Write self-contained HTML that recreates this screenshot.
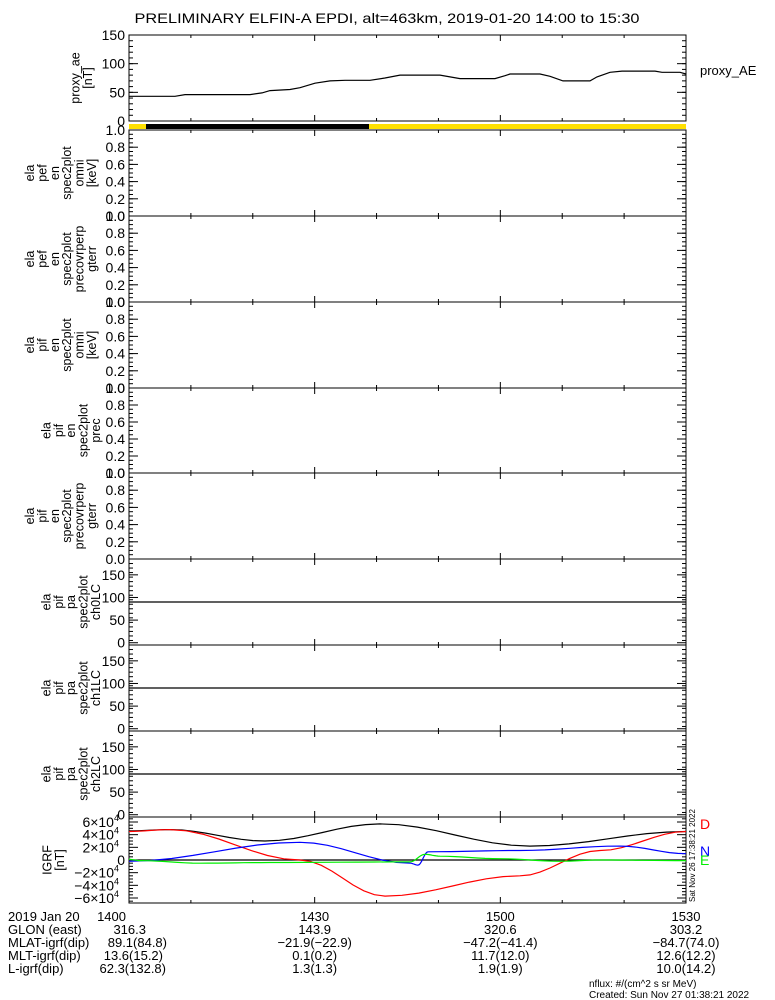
<!DOCTYPE html>
<html><head><meta charset="utf-8"><style>
html,body{margin:0;padding:0;background:#fff}
svg{display:block;font-family:"Liberation Sans",sans-serif}
</style></head><body>
<svg id="s" width="775" height="1000" viewBox="0 0 775 1000" xmlns="http://www.w3.org/2000/svg"></svg>
<script>
const s=document.getElementById('s');let h='';
const L=129,R=686,W=R-L;
const X=t=>L+W*t/90;
function line(x1,y1,x2,y2,c='#000',w=1){h+=`<line x1="${x1}" y1="${y1}" x2="${x2}" y2="${y2}" stroke="${c}" stroke-width="${w}"/>`;}
function txt(x,y,t,a='start',fs=13,c='#000',extra=''){h+=`<text x="${x}" y="${y}" font-size="${fs}" fill="${c}" text-anchor="${a}" ${extra}>${t}</text>`;}
function frame(top,bot,labels,ymin,ymax,minorStep){
  h+=`<rect x="${L}" y="${top}" width="${W}" height="${bot-top}" fill="none" stroke="#000" stroke-width="1"/>`;
  for(let m=0;m<=90;m+=10){const x=X(m);const len=(m%30==0)?6:3;line(x,top,x,top+len);line(x,bot,x,bot-len);}
  const Y=v=>bot-(v-ymin)/(ymax-ymin)*(bot-top);
  for(let v=ymin;v<=ymax+1e-9;v+=minorStep){const y=Y(v);line(L,y,L+4,y);line(R,y,R-4,y);}
  labels.forEach(([v,t])=>{const y=Y(v);line(L,y,L+9,y);line(R,y,R-9,y);txt(L-4,y+5,t,'end',14);});
  return Y;
}
function ylab(lines,cy,lastX){
  const n=lines.length;
  lines.forEach((t,i)=>{const x=lastX-(n-1-i)*12.4;h+=`<text transform="translate(${x},${cy}) rotate(-90)" font-size="12.5" text-anchor="middle">${t}</text>`;});
}
txt(387,23,'PRELIMINARY ELFIN-A EPDI, alt=463km, 2019-01-20 14:00 to 15:30','middle',14,'#000','textLength="505" lengthAdjust="spacingAndGlyphs"');
// AE panel
let Y=frame(35,121,[[0,'0'],[50,'50'],[100,'100'],[150,'150']],0,150,10);
ylab(['proxy_ae','[nT]'],78,92);
txt(700,75,'proxy_AE','start',13);
const ae=[[129,43],[175,43],[185,46],[250,46],[262,49],[270,53],[290,55],[300,58],[315,66],[330,70],[345,71],[370,71],[385,75],[400,80],[440,80],[450,77],[460,74],[495,74],[505,79],[510,82],[540,82],[550,78],[563,70],[590,70],[597,77],[610,85],[622,87],[655,87],[662,85],[680,85],[686,82]];
h+=`<polyline fill="none" stroke="#000" stroke-width="1.2" points="${ae.map(p=>p[0]+','+Y(p[1]).toFixed(1)).join(' ')}"/>`;
// bar
h+=`<rect x="${L}" y="124" width="${W}" height="5" fill="#ffe000"/><rect x="146" y="124" width="223" height="5" fill="#000"/>`;
// spec panels
const tops=[130,216,302,388,473,559,645,731,817,903];
const labs=[['ela','pef','en','spec2plot','omni','[keV]'],['ela','pef','en','spec2plot','precovrperp','gterr'],['ela','pif','en','spec2plot','omni','[keV]'],['ela','pif','en','spec2plot','prec'],['ela','pif','en','spec2plot','precovrperp','gterr'],['ela','pif','pa','spec2plot','ch0LC'],['ela','pif','pa','spec2plot','ch1LC'],['ela','pif','pa','spec2plot','ch2LC']];
for(let i=0;i<8;i++){
  const t=tops[i],b=tops[i+1];
  if(i<5){frame(t,b,[[0,'0.0'],[.2,'0.2'],[.4,'0.4'],[.6,'0.6'],[.8,'0.8'],[1,'1.0']],0,1,0.05);}
  else{const Yp=frame(t,b,[[0,'0'],[50,'50'],[100,'100'],[150,'150']],-5,185,10);line(L,Yp(90),R,Yp(90),'#000',1.2);}
  ylab(labs[i],(t+b)/2,labs[i].length==6?96:100);
}
// IGRF
const t=817,b=903,c=860,k=38/60000;
h+=`<rect x="${L}" y="${t}" width="${W}" height="${b-t}" fill="none" stroke="#000"/>`;
for(let m=0;m<=90;m+=10){const x=X(m);const len=(m%30==0)?6:3;line(x,t,x,t+len);line(x,b,x,b-len);}
for(let v=-65000;v<=65000;v+=5000){const y=c-v*k;if(y<t||y>b)continue;const maj=v%20000==0;line(L,y,L+(maj?9:4),y);line(R,y,R-(maj?9:4),y);}
[[6,'6×10<tspan font-size="9" dy="-6">4</tspan>'],[4,'4×10<tspan font-size="9" dy="-6">4</tspan>'],[2,'2×10<tspan font-size="9" dy="-6">4</tspan>'],[0,'0'],[-2,'−2×10<tspan font-size="9" dy="-6">4</tspan>'],[-4,'−4×10<tspan font-size="9" dy="-6">4</tspan>'],[-6,'−6×10<tspan font-size="9" dy="-6">4</tspan>']].forEach(([v,tt])=>{const y=c-v*10000*k;h+=`<text x="${v==0?L-4:L-10}" y="${y+5}" font-size="14" text-anchor="end">${tt}</text>`;});
line(L,c,R,c,'#000',1.2);
ylab(['IGRF','[nT]'],860,64);
function curve(pts,col){
  let out=[];for(let i=0;i<pts.length-1;i++){const [x0,y0]=pts[i],[x1,y1]=pts[i+1];for(let j=0;j<8;j++){const f=j/8,g=(1-Math.cos(Math.PI*f))/2;out.push([x0+(x1-x0)*f,y0+(y1-y0)*g]);}}
  out.push(pts[pts.length-1]);
  h+=`<polyline fill="none" stroke="${col}" stroke-width="1.2" points="${out.map(p=>p[0].toFixed(1)+','+(c-p[1]*k).toFixed(1)).join(' ')}"/>`;
}
curve([[129,46000],[170,48000],[265,30000],[380,57000],[530,22000],[686,45000]],'#000');
curve([[129,45000],[170,48000],[300,0],[385,-57000],[520,-25000],[600,15000],[686,45000]],'#f00');
curve([[129,-2000],[300,28000],[410,-5000],[418,-8000],[428,13000],[520,15000],[620,22000],[686,10000]],'#00f');
curve([[129,1000],[140,-1000],[200,-5000],[270,-4000],[410,-3000],[425,9000],[440,6000],[500,2000],[560,-2000],[600,0],[686,-1000]],'#0e0');
txt(700,829,'D','start',14,'#f00');txt(700,856,'N','start',14,'#00f');txt(700,865,'E','start',14,'#0e0');
h+=`<text transform="translate(695,902) rotate(-90)" font-size="8" text-anchor="start">Sat Nov 26 17:38:21 2022</text>`;
const rows=[['2019 Jan 20','1400','1430','1500','1530'],['GLON (east)','316.3','143.9','320.6','303.2'],['MLAT-igrf(dip)','89.1(84.8)','−21.9(−22.9)','−47.2(−41.4)','−84.7(74.0)'],['MLT-igrf(dip)','13.6(15.2)','0.1(0.2)','11.7(12.0)','12.6(12.2)'],['L-igrf(dip)','62.3(132.8)','1.3(1.3)','1.9(1.9)','10.0(14.2)']];
rows.forEach((r,i)=>{const y=921+i*13;txt(8,y,r[0]);const xs=[L,X(30),X(60),R];for(let j=1;j<5;j++){txt(j==1?(i==0?126:(i==1?146:(i==2?167:(i==3?163:166)))):xs[j-1],y,r[j],j==1?'end':'middle');}});
txt(589,987,'nflux: #/(cm^2 s sr MeV)','start',10);
txt(589,998,'Created: Sun Nov 27 01:38:21 2022','start',10);
s.innerHTML=h;
</script>
</body></html>
